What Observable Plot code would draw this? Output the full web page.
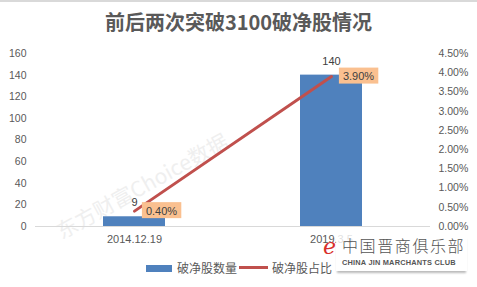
<!DOCTYPE html>
<html><head><meta charset="utf-8">
<script src="https://cdn.jsdelivr.net/npm/d3@7"></script>
<script src="https://cdn.jsdelivr.net/npm/@observablehq/plot@0.6"></script>
<style>
body{margin:0;background:#fff;width:477px;height:287px;overflow:hidden;position:relative;font-family:"Liberation Sans",Arial,sans-serif;}
#frame{position:absolute;left:0;top:0;width:477px;height:287px;border-top:2px solid #d9d9d9;box-sizing:border-box;pointer-events:none;}
#title{position:absolute;left:0;top:10px;width:477px;text-align:center;font:bold 20px/24px "Noto Sans CJK SC",sans-serif;color:#595959;}
#chart{position:absolute;left:0;top:45px;}
.lg{position:absolute;}
.lgt{position:absolute;font:12px/14px "Noto Sans CJK SC",sans-serif;color:#595959;top:261px;}
#logo{position:absolute;left:336px;top:235px;width:131px;height:36px;background:rgba(255,255,255,0.82);box-shadow:0 3px 2px -1px #bbb;}
#logo .cn{position:absolute;left:6px;top:0px;font:300 16px/20px "Noto Sans CJK SC",sans-serif;letter-spacing:1.6px;color:#555;white-space:nowrap;}
#logo .en{position:absolute;left:6px;top:23px;font:bold 7.4px/9px "Liberation Sans",Arial,sans-serif;color:#555;white-space:nowrap;letter-spacing:0.2px;}
#e{position:absolute;left:323px;top:234px;font:italic 22px/26px "DejaVu Serif",serif;color:#d9302c;}
</style></head>
<body>
<div id="title">前后两次突破3100破净股情况</div>
<div id="chart"></div>
<div class="lg" style="left:146px;top:265px;width:26px;height:7px;background:#4F81BD"></div>
<div class="lgt" style="left:177px">破净股数量</div>
<div class="lg" style="left:239px;top:266px;width:29px;height:3px;background:#C0504D"></div>
<div class="lgt" style="left:272px">破净股占比</div>
<div id="e">e</div>
<div id="logo"><div class="cn">中国晋商俱乐部</div><div class="en">CHINA JIN MARCHANTS CLUB</div></div>
<div id="frame"></div>
<script>
const categories = ["2014.12.19", "2019.3.5"];
const counts = [9, 140];
const ratios = [0.40, 3.90]; // percent
const leftTicks = [0, 20, 40, 60, 80, 100, 120, 140, 160];
const rightTicks = [0, 0.5, 1, 1.5, 2, 2.5, 3, 3.5, 4, 4.5];
const countMax = 160;
const pctMax = 4.5;

const data = categories.map((c, i) => ({date: c, count: counts[i], ratio: ratios[i]}));
const toLeft = p => p * countMax / pctMax;

const chart = Plot.plot({
  width: 477,
  height: 210,
  marginTop: 8,
  marginLeft: 35,
  marginRight: 47,
  marginBottom: 29,
  style: {fontFamily: '"Liberation Sans", Arial, sans-serif', fontSize: "10.5px", color: "#595959", background: "transparent"},
  x: {domain: categories, paddingInner: 0.687, paddingOuter: 0.341, axis: null},
  y: {domain: [0, countMax], axis: null},
  marks: [
    Plot.axisY(leftTicks, {anchor: "left", tickSize: 0, tickPadding: 9, fill: "#595959", label: null}),
    Plot.axisY(rightTicks.map(toLeft), {anchor: "right", tickSize: 0, tickPadding: 8, fill: "#595959", label: null,
      tickFormat: v => (v * pctMax / countMax).toFixed(2) + "%"}),
    Plot.axisX({anchor: "bottom", tickSize: 0, tickPadding: 9, fill: "#595959", fontSize: 11, label: null}),
    Plot.barY(data, {x: "date", y: "count", fill: "#4F81BD"}),
    Plot.ruleY([0], {stroke: "#d9d9d9"}),
    Plot.lineY(data, {x: "date", y: d => toLeft(d.ratio), stroke: "#C0504D", strokeWidth: 3}),
    Plot.text(data, {x: "date", y: "count", text: d => String(d.count), dy: -14, fill: "#404040", fontSize: 11}),
    Plot.text(data, {x: "date", y: d => toLeft(d.ratio), text: d => d.ratio.toFixed(2) + "%", dx: 27, dy: 0,
      fill: "#404040", fontSize: 11})
  ]
});
document.getElementById("chart").append(chart);

const svg = d3.select(chart);
// watermark behind marks
svg.insert("text", ":first-child")
  .attr("transform", "translate(146,148) rotate(-29)")
  .attr("font-family", '"Noto Sans CJK SC", sans-serif')
  .attr("font-size", 21)
  .attr("fill", "#efefef")
  .text("东方财富Choice数据");

// label boxes behind the percentage labels
const pctTexts = Array.from(chart.querySelectorAll('g[aria-label="text"] text'))
  .filter(t => ratios.map(r => r.toFixed(2) + "%").includes(t.textContent));
pctTexts.forEach(t => {
  const b = t.getBBox();
  const r = d3.select(t.parentNode).insert("rect", () => t)
    .attr("x", b.x - 4).attr("y", b.y - 2.5)
    .attr("width", b.width + 8).attr("height", b.height + 4)
    .attr("fill", "#FAC090");
  const m = t.getAttribute("transform");
  if (m) r.attr("transform", m);
});
</script>
</body></html>
